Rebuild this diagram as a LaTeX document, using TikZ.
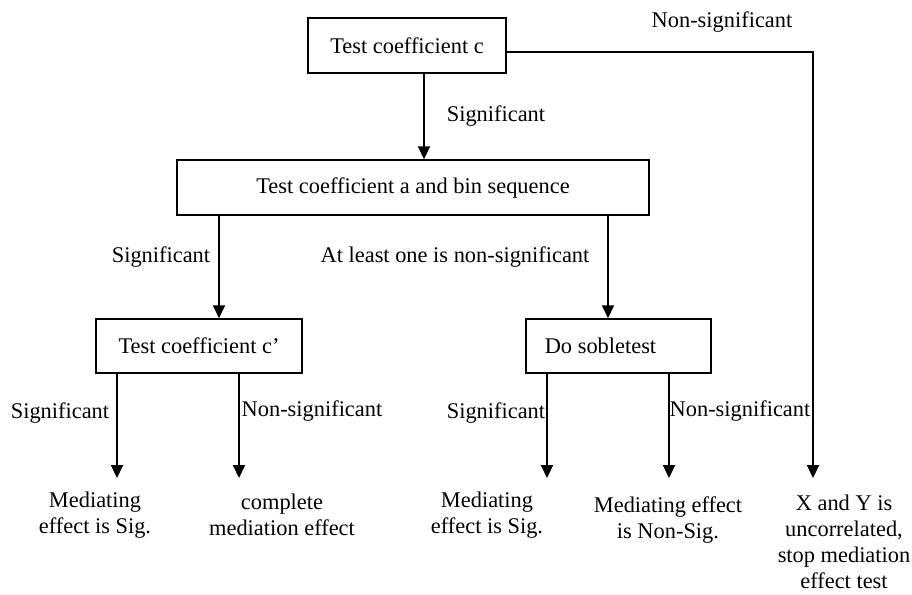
\documentclass[tikz,border=0pt]{standalone}
\usepackage{fontspec}
\setmainfont{Liberation Serif}
\usetikzlibrary{arrows.meta}
\tikzset{
  txt/.style={inner sep=0pt,align=center,font=\fontsize{22.4}{26}\selectfont},
  box/.style={txt,draw,line width=1.5pt,minimum height=55pt},
  arr/.style={line width=2pt,-{Triangle[length=13pt,width=12pt]}}
}
\begin{document}
\begin{tikzpicture}[x=1pt,y=-1pt]
  \useasboundingbox (0,0) rectangle (912,594);
  \node[box,minimum width=198pt] (c) at (407,45.5) {Test coefficient c};
  \node[box,minimum width=472pt] (ab) at (413,187.5) {Test coefficient a and bin sequence};
  \node[box,minimum width=206pt,minimum height=54pt] (cp) at (199,346) {Test coefficient c’};
  \node[box,minimum width=185pt,minimum height=54pt] (sob) at (618.5,346) {Do sobletest\hspace{36pt}};
  \coordinate (k1) at (424,0);
  \coordinate (k2) at (219,0);
  \coordinate (k3) at (608,0);
  \coordinate (t1) at (117,478);
  \coordinate (t2) at (239,478);
  \coordinate (t3) at (547,478);
  \coordinate (t4) at (669,478);
  \coordinate (t5) at (813,478);
  \draw[arr] (c.south -| k1) -- (ab.north -| k1);
  \draw[arr] (ab.south -| k2) -- (cp.north -| k2);
  \draw[arr] (ab.south -| k3) -- (sob.north -| k3);
  \draw[arr] (cp.south -| t1) -- (t1);
  \draw[arr] (cp.south -| t2) -- (t2);
  \draw[arr] (sob.south -| t3) -- (t3);
  \draw[arr] (sob.south -| t4) -- (t4);
  \draw[arr] (c.east |- 0,52) -| (t5);
  \node[txt] (l1) at (722,22) {Non-significant};
  \node[txt] (l2) at (496,116) {Significant};
  \node[txt] (l3) at (161,257) {Significant};
  \node[txt] (l4) at (455,257) {At least one is non-significant};
  \node[txt] (l5) at (60,413) {Significant};
  \node[txt] (l6) at (312,411) {Non-significant};
  \node[txt] (l7) at (496,413) {Significant};
  \node[txt] (l8) at (740,411) {Non-significant};
  \node[txt] (r1) at (95,515) {Mediating\\effect is Sig.};
  \node[txt] (r2) at (282,515) {complete\\mediation effect};
  \node[txt] (r3) at (487,515) {Mediating\\effect is Sig.};
  \node[txt] (r4) at (668,520) {Mediating effect\\is Non-Sig.};
  \node[txt] (r5) at (844,542) {X and Y is\\uncorrelated,\\stop mediation\\effect test};
\end{tikzpicture}
\end{document}
